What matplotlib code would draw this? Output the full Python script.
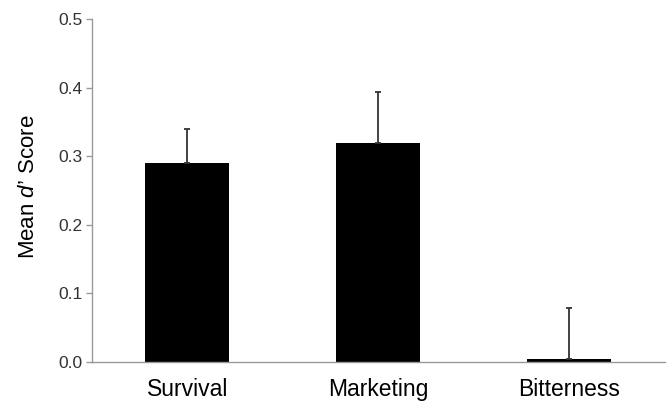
import matplotlib
matplotlib.use("Agg")
import matplotlib.pyplot as plt
import numpy as np

# Mean d' scores per condition, with upper standard-error bars
categories = ["Survival", "Marketing", "Bitterness"]
means = [0.29, 0.32, 0.005]
upper_err = [0.05, 0.074, 0.073]
y_ticks = [0.0, 0.1, 0.2, 0.3, 0.4, 0.5]

plt.rcParams["font.family"] = ["Liberation Sans", "DejaVu Sans"]
plt.rcParams["mathtext.fontset"] = "custom"
plt.rcParams["mathtext.rm"] = "Liberation Sans"
plt.rcParams["mathtext.it"] = "Liberation Sans:italic"

fig = plt.figure(figsize=(6.69, 4.01), dpi=100)
ax = fig.add_axes([0.1375, 0.0973, 0.856, 0.855])

x = np.arange(len(categories))
ax.bar(x, means, width=0.44, color="black", zorder=2)
ax.errorbar(x, means, yerr=[np.zeros(len(means)), upper_err], fmt="none",
            ecolor="#333333", elinewidth=1.3, capsize=2.5, capthick=1.3,
            zorder=3)

ax.set_xlim(-0.5, 2.5)
ax.set_ylim(0, 0.5)
ax.set_yticks(y_ticks)
ax.set_yticklabels([f"{t:.1f}" for t in y_ticks], fontsize=12.5)
ax.set_xticks(x)
ax.set_xticklabels(categories, fontsize=16.5)

for side in ("top", "right"):
    ax.spines[side].set_visible(False)
for side in ("left", "bottom"):
    ax.spines[side].set_color("#999999")
    ax.spines[side].set_linewidth(1.0)

ax.tick_params(axis="y", direction="out", length=4, width=1.0,
               color="#999999", pad=3, labelcolor="#333333")
ax.tick_params(axis="x", length=0, pad=11.5, labelcolor="black")

ax.set_ylabel("Mean $\\mathit{d\u2019}$ Score", fontsize=16)
ax.yaxis.set_label_coords(-0.093, 0.51)

fig.savefig("out.png", dpi=100)
